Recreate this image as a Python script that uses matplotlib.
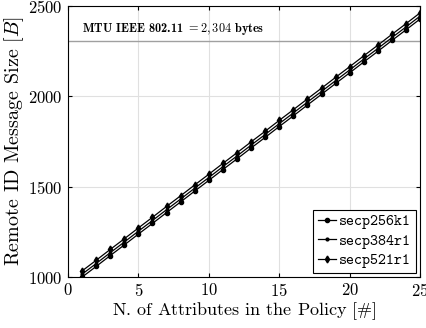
import numpy as np
import matplotlib.pyplot as plt

plt.rcParams['font.family'] = 'serif'
plt.rcParams['font.serif'] = ['cmr10']
plt.rcParams['mathtext.fontset'] = 'cm'
plt.rcParams['axes.formatter.use_mathtext'] = True

n_attr = list(range(1, 26))
secp256k1 = [1000, 1059, 1119, 1178, 1238, 1297, 1357, 1416, 1476, 1535,
             1595, 1654, 1714, 1773, 1833, 1892, 1952, 2011, 2071, 2130,
             2190, 2249, 2309, 2368, 2428]
secp384r1 = [1016, 1075, 1135, 1194, 1254, 1313, 1373, 1432, 1492, 1551,
             1611, 1670, 1730, 1789, 1849, 1908, 1968, 2027, 2087, 2146,
             2206, 2265, 2325, 2384, 2444]
secp521r1 = [1034, 1093, 1153, 1212, 1272, 1331, 1391, 1450, 1510, 1569,
             1629, 1688, 1748, 1807, 1867, 1926, 1986, 2045, 2105, 2164,
             2224, 2283, 2343, 2402, 2462]
mtu = 2304

fig = plt.figure(figsize=(4.27, 3.28), dpi=100)
ax = fig.add_axes([0.159, 0.155, 0.825, 0.827])

ax.axhline(mtu, color='#a0a0a0', lw=1.0, zorder=1)
ax.text(1, mtu + 22, r"MTU IEEE 802.11 $= 2,304$ bytes", fontfamily='cmb10',
        fontsize=8.8, va='bottom', ha='left')

ax.plot(n_attr, secp256k1, color='k', marker='o', ms=3, lw=0.9, label='secp256k1')
ax.plot(n_attr, secp384r1, color='k', marker='.', ms=4, lw=0.9, label='secp384r1')
ax.plot(n_attr, secp521r1, color='k', marker='d', ms=3.5, lw=0.9, label='secp521r1')

ax.set_xlim(0, 25)
ax.set_ylim(1000, 2500)
ax.set_xticks([0, 5, 10, 15, 20, 25])
ax.set_yticks([1000, 1500, 2000, 2500])
ax.grid(True, color='#e0e0e0', lw=0.8)
ax.set_axisbelow(True)
ax.tick_params(direction='in', top=True, right=True, labelsize=12, length=3)
for s in ax.spines.values():
    s.set_linewidth(0.8)

ax.set_xlabel(r"N. of Attributes in the Policy $[\#]$", fontsize=13, labelpad=1)
ax.set_ylabel(r"Remote ID Message Size $[B]$", fontsize=14.5, labelpad=2)

leg = ax.legend(loc='lower right', prop={'family': 'cmtt10', 'size': 11},
                fancybox=False, edgecolor='k', framealpha=1,
                handlelength=1.2, handletextpad=0.2, borderpad=0.3,
                labelspacing=0.3, borderaxespad=0.3)
leg.get_frame().set_linewidth(0.8)

fig.savefig('out.png', dpi=100)
